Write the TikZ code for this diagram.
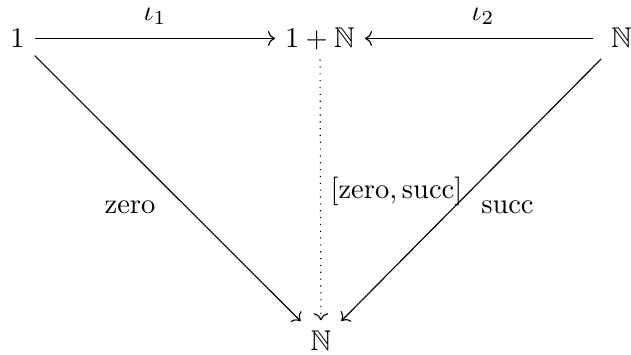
\documentclass[tikz,border=0pt]{standalone}
\usepackage{amssymb}
\usetikzlibrary{arrows.meta}
\begin{document}
\begin{tikzpicture}[x=0.35088pt,y=-0.35088pt,
  obj/.style={anchor=base, text height=6.9pt, text depth=0.9pt},
  lbl/.style={anchor=base, inner sep=0pt},
  arr/.style={-{Computer Modern Rightarrow}, line width=0.4pt}]
\useasboundingbox (0,0) rectangle (631,354);
\node[obj] (one) at (17.5,47) {$1$};
\node[obj] (sum) at (320,47) {$1+\mathbb{N}$};
\node[obj] (nr) at (621.5,47) {$\mathbb{N}$};
\node[obj] (nb) at (321,350) {$\mathbb{N}$};
\draw[arr] (one) -- (sum);
\draw[arr, shorten <=2.8pt] (nr) -- (sum);
\draw[arr] (one) -- (nb);
\draw[arr] (nr) -- (nb);
\draw[arr, dotted] (sum) -- (nb);
\node[lbl] (l1) at (155,20) {$\iota_1$};
\node[lbl] (l2) at (483,20) {$\iota_2$};
\node[lbl] (lz) at (130,213) {$\mathrm{zero}$};
\node[lbl] (ls) at (507.5,213) {$\mathrm{succ}$};
\node[lbl] (lzs) at (396.5,198) {$[\mathrm{zero},\mathrm{succ}]$};
\end{tikzpicture}
\end{document}
